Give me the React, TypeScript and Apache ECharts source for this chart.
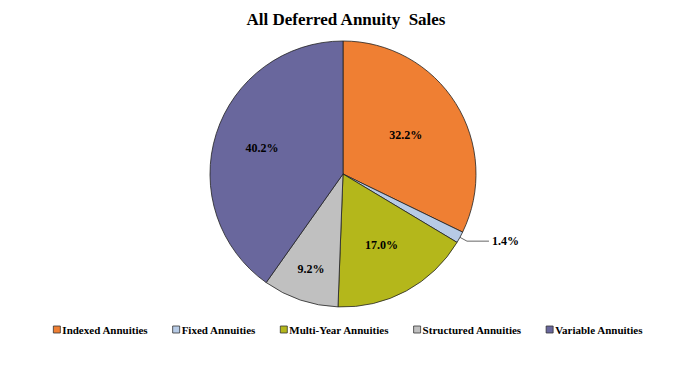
import React, { useEffect, useRef } from "react";
import * as echarts from "echarts";

const TITLE = "All Deferred Annuity  Sales";
const categories = [
  "Indexed Annuities",
  "Fixed Annuities",
  "Multi-Year Annuities",
  "Structured Annuities",
  "Variable Annuities",
];
const shares = [32.2, 1.4, 17.0, 9.2, 40.2];
const colors = ["#EF7F33", "#B7CBE6", "#B4B71B", "#C0C0C0", "#69679D"];

const CX = 343;
const CY = 174;
const R = 133;
// radial distance of the inside labels from the pie centre
const LABEL_R = [74, 0, 81, 100, 85];

export default function App() {
  const ref = useRef<HTMLDivElement>(null);
  useEffect(() => {
    if (!ref.current) return;
    const chart = echarts.init(ref.current, null, { renderer: "svg" });
    const font = "Liberation Serif";
    chart.setOption({
      animation: false,
      backgroundColor: "#ffffff",
      title: {
        text: TITLE,
        left: 341,
        textAlign: "center",
        top: 6,
        textStyle: { fontFamily: font, fontWeight: "bold", fontSize: 17, color: "#000" },
      },
      legend: {
        bottom: 29,
        left: "center",
        itemWidth: 7,
        itemHeight: 7,
        itemGap: 24,
        icon: "rect",
        itemStyle: { borderColor: "#333", borderWidth: 0.8 },
        textStyle: { fontFamily: font, fontWeight: "bold", fontSize: 11, color: "#000", padding: [0, 0, 0, -3] },
        data: categories,
      },
      series: [
        {
          type: "pie",
          center: [CX, CY],
          radius: R,
          startAngle: 90,
          clockwise: true,
          avoidLabelOverlap: false,
          itemStyle: { borderColor: "#222", borderWidth: 0.8 },
          label: {
            position: "inside",
            fontFamily: font,
            fontWeight: "bold",
            fontSize: 12,
            color: "#000",
            formatter: (p: any) => p.value.toFixed(1) + "%",
          },
          labelLine: { show: false },
          labelLayout: (p: any) => {
            const target = LABEL_R[p.dataIndex];
            if (!target) return {};
            const lx = p.labelRect.x + p.labelRect.width / 2;
            const ly = p.labelRect.y + p.labelRect.height / 2;
            const vx = lx - CX;
            const vy = ly - CY;
            const d = Math.sqrt(vx * vx + vy * vy) || 1;
            return { dx: vx * (target / d - 1), dy: vy * (target / d - 1) };
          },
          data: categories.map((name, i) => {
            const item: any = { name, value: shares[i], itemStyle: { color: colors[i] } };
            if (i === 1) {
              item.label = { position: "outside", distanceToLabelLine: 3 };
              item.labelLine = {
                show: true,
                length: 8,
                length2: 22,
                lineStyle: { color: "#666", width: 1 },
              };
            }
            return item;
          }),
        },
      ],
    });
    return () => chart.dispose();
  }, []);
  return (
    <div
      ref={ref}
      style={{ position: "fixed", left: 0, top: 0, width: 696, height: 369, background: "#fff" }}
    />
  );
}
